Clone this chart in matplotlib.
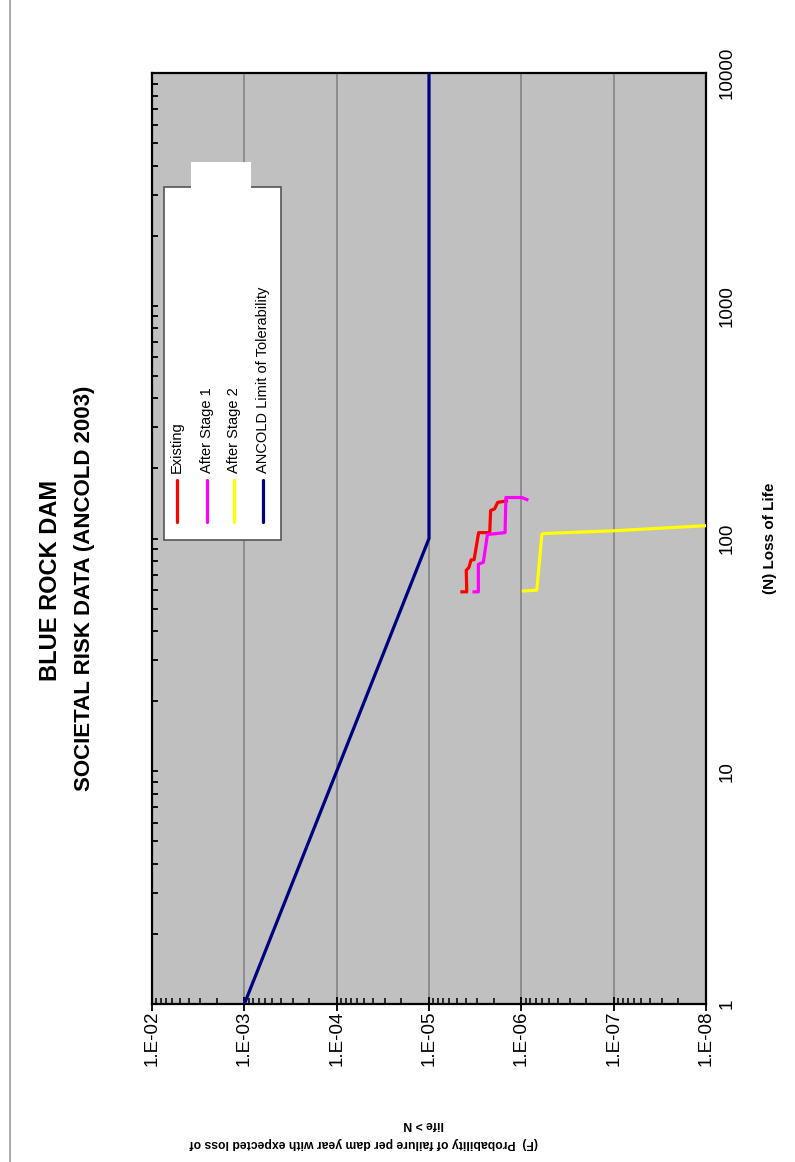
import matplotlib
matplotlib.use("Agg")
import matplotlib.pyplot as plt
from matplotlib.ticker import LogLocator, FixedLocator, NullFormatter
from matplotlib.patches import Rectangle, Polygon
from matplotlib.lines import Line2D

plt.rcParams['font.family'] = ['Liberation Sans', 'DejaVu Sans']

# ---- data (N = loss of life, F = probability) ----
existing_N = [59, 59, 73, 75, 81, 81, 106, 106, 132, 134, 143, 145]
existing_F = [4.4e-6, 3.9e-6, 3.95e-6, 3.7e-6, 3.5e-6, 3.25e-6, 2.9e-6, 2.2e-6, 2.15e-6, 1.95e-6, 1.8e-6, 1.45e-6]

stage1_N = [59, 59, 77.5, 79, 104, 106, 150, 150, 147]
stage1_F = [3.25e-6, 2.92e-6, 2.92e-6, 2.58e-6, 2.33e-6, 1.5e-6, 1.47e-6, 9.9e-7, 8.7e-7]

stage2_N = [59.5, 60, 104, 105, 108, 113.5]
stage2_F = [9.5e-7, 6.8e-7, 6.0e-7, 5.8e-7, 9.7e-8, 1.0e-8]

ancold_N = [1, 100, 10000]
ancold_F = [1e-3, 1e-5, 1e-5]

F_ticks = [1e-2, 1e-3, 1e-4, 1e-5, 1e-6, 1e-7, 1e-8]
F_labels = ["1.E-02", "1.E-03", "1.E-04", "1.E-05", "1.E-06", "1.E-07", "1.E-08"]
N_ticks = [1, 10, 100, 1000, 10000]
N_labels = ["1", "10", "100", "1000", "10000"]

series_names = ["Existing", "After Stage 1", "After Stage 2", "ANCOLD Limit of Tolerability"]
series_colors = ["#FF0000", "#FF00FF", "#FFFF00", "#000080"]

W, H = 795, 1162
fig = plt.figure(figsize=(W / 100, H / 100), dpi=100)
fig.patch.set_facecolor("white")

L, R, T, B = 152, 706, 73, 1004
ax = fig.add_axes([L / W, 1 - B / H, (R - L) / W, (B - T) / H])
ax.set_facecolor("#C0C0C0")

lw = 2.3
ax.plot(existing_F, existing_N, color=series_colors[0], lw=lw, zorder=4)
ax.plot(stage1_F, stage1_N, color=series_colors[1], lw=lw, zorder=4)
ax.plot(stage2_F, stage2_N, color=series_colors[2], lw=lw, zorder=4)
ax.plot(ancold_F, ancold_N, color=series_colors[3], lw=lw, zorder=4)

ax.set_xscale("log")
ax.set_yscale("log")
ax.set_xlim(1e-2, 1e-8)
ax.set_ylim(1, 10000)

ax.set_xticks(F_ticks)
ax.set_xticklabels(F_labels, rotation=90, fontsize=13.5)
ax.xaxis.set_minor_locator(LogLocator(base=10, subs=range(2, 10), numticks=20))
ax.xaxis.set_minor_formatter(NullFormatter())

ax.set_yticks(N_ticks)
ax.set_yticklabels(N_labels, rotation=90, fontsize=13.5, va="center")
ax.yaxis.set_minor_locator(LogLocator(base=10, subs=range(2, 10), numticks=20))
ax.yaxis.set_minor_formatter(NullFormatter())

ax.tick_params(axis="x", which="major", direction="inout", length=10, width=1.3,
               bottom=True, top=False, pad=0, colors="black")
ax.tick_params(axis="x", which="minor", direction="in", length=4.5, width=1.1,
               bottom=True, top=False)
ax.tick_params(axis="y", which="both", direction="in", length=4.5, width=1.3,
               left=True, right=False, labelleft=False, labelright=True, pad=9)

ax.grid(axis="x", which="major", color="#7F7F7F", lw=1.1, zorder=1)
ax.set_axisbelow(True)
for s in ax.spines.values():
    s.set_color("black")
    s.set_linewidth(1.6)

# ---- legend (rotated, drawn manually) ----
def ax_pt(x, y):
    return ((x - L) / (R - L), (B - y) / (B - T))

box_l, box_r, box_t, box_b = 164, 281, 187, 540
x0, y0 = ax_pt(box_l, box_b)
x1, y1 = ax_pt(box_r, box_t)
ax.add_patch(Rectangle((x0, y0), x1 - x0, y1 - y0, transform=ax.transAxes,
                       facecolor="white", edgecolor="#555555", lw=1.2, zorder=6))
tab = [ax_pt(191, 188), ax_pt(191, 162), ax_pt(251, 162), ax_pt(251, 188)]
ax.add_patch(Polygon(tab, closed=True, transform=ax.transAxes,
                     facecolor="white", edgecolor="none", zorder=7))

leg_x = [177, 207, 234, 263]
for name, col, lx in zip(series_names, series_colors, leg_x):
    xa, ya1 = ax_pt(lx, 522)
    _, ya2 = ax_pt(lx, 480)
    ax.add_line(Line2D([xa, xa], [ya1, ya2], transform=ax.transAxes, color=col,
                       lw=lw, zorder=8, solid_capstyle="round"))
    _, yt = ax_pt(lx, 473)
    ax.text(xa, yt, name, transform=ax.transAxes, rotation=90, ha="center",
            va="bottom", fontsize=10.5, zorder=8)

# ---- titles and axis labels (page is rotated) ----
def fig_pt(x, y):
    return (x / W, 1 - y / H)

fig.text(*fig_pt(51, 580), "BLUE ROCK DAM", rotation=90, ha="center", va="center",
         fontsize=17, fontweight="bold")
fig.text(*fig_pt(85, 588), "SOCIETAL RISK DATA (ANCOLD 2003)", rotation=90,
         ha="center", va="center", fontsize=16, fontweight="bold")

fig.text(*fig_pt(770, 538), "(N) Loss of Life", rotation=90, ha="center", va="center",
         fontsize=11, fontweight="bold")

fig.text(*fig_pt(364, 1143), "(F)  Probability of failure per dam year with expected loss of",
         rotation=180, ha="center", va="center", fontsize=8.8, fontweight="bold")
fig.text(*fig_pt(424, 1124), "life > N", rotation=180, ha="center", va="center",
         fontsize=8.8, fontweight="bold")

# page edge
fig.add_artist(Line2D([10 / W, 10 / W], [0, 1], transform=fig.transFigure,
                      color="#9A9A9A", lw=1.2))

fig.savefig("out.png", dpi=100, facecolor="white")
